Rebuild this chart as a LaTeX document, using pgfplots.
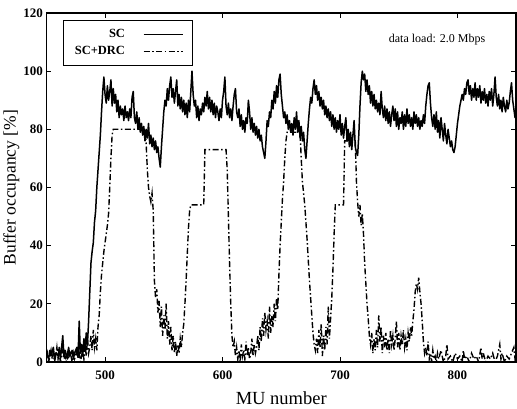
\documentclass[border=0pt]{standalone}
\usepackage{pgfplots}
\pgfplotsset{compat=1.18}
\usepackage{fontspec}
\setmainfont{Liberation Serif}

\pgfplotstableread{
x y
450 3
452 1
453 4
454 2
456 5
457 1
458 3
460 2
461 5
462 1
464 9
465 2
466 4
468 1
469 5
470 2
472 4
473 1
474 3
476 5
477 2
478 14
479 3
480 6
481 2
482 8
483 4
484 10
485 6
486 14
487 24
488 34
489 38
490 41
491 48
492 52
493 60
494 66
495 72
496 78
497 86
498 93
499 98
500 92
501 89
502 95
503 90
504 93
505 97
506 88
507 94
508 89
509 92
510 86
511 90
512 84
513 88
514 85
515 87
516 83
517 88
518 84
519 86
520 83
521 87
522 84
523 91
524 93
525 84
526 82
527 86
528 80
529 84
530 79
531 82
532 78
533 81
534 76
535 80
536 77
537 82
538 75
539 78
540 74
541 77
542 73
543 76
544 72
545 74
546 70
547 67
548 74
549 80
550 86
551 90
552 88
553 94
554 90
555 95
556 98
557 91
558 94
559 89
560 93
561 97
562 88
563 92
564 87
565 91
566 86
567 90
568 85
569 89
570 84
571 90
572 86
573 93
574 100
575 92
576 88
577 90
578 84
579 88
580 83
581 87
582 85
583 89
584 86
585 91
586 88
587 93
588 87
589 91
590 86
591 90
592 85
593 89
594 84
595 88
596 86
597 83
598 87
599 84
600 90
601 93
602 98
603 88
604 85
605 89
606 84
607 87
608 83
609 88
610 92
611 94
612 86
613 84
614 87
615 81
616 85
617 80
618 83
619 79
620 84
621 82
622 90
623 86
624 80
625 84
626 79
627 82
628 78
629 81
630 77
631 80
632 76
633 78
634 74
635 72
636 70
637 76
638 83
639 81
640 86
641 84
642 90
643 87
644 93
645 89
646 95
647 91
648 97
649 99
650 92
651 88
652 84
653 86
654 82
655 85
656 80
657 83
658 79
659 82
660 78
661 84
662 80
663 86
664 79
665 83
666 77
667 81
668 76
669 79
670 73
671 70
672 76
673 82
674 87
675 91
676 89
677 94
678 97
679 92
680 95
681 90
682 93
683 88
684 91
685 87
686 90
687 85
688 88
689 84
690 87
691 83
692 86
693 81
694 85
695 80
696 84
697 79
698 83
699 80
700 85
701 78
702 82
703 77
704 81
705 84
706 76
707 80
708 74
709 79
710 73
711 78
712 83
713 74
714 72
715 71
716 78
717 88
718 96
719 100
720 97
721 99
722 93
723 97
724 92
725 95
726 89
727 93
728 88
729 92
730 87
731 90
732 86
733 89
734 85
735 93
736 87
737 84
738 88
739 83
740 87
741 82
742 86
743 81
744 85
745 88
746 83
747 87
748 81
749 86
750 80
751 84
752 82
753 86
754 80
755 85
756 81
757 87
758 82
759 85
760 81
761 84
762 80
763 86
764 82
765 85
766 81
767 84
768 80
769 83
770 81
771 85
772 82
773 88
774 92
775 95
776 96
777 89
778 84
779 81
780 85
781 80
782 86
783 79
784 83
785 77
786 84
787 80
788 76
789 82
790 78
791 75
792 80
793 77
794 74
795 76
796 73
797 72
798 74
799 78
800 82
801 85
802 88
803 90
804 92
805 90
806 94
807 92
808 96
809 97
810 92
811 95
812 90
813 94
814 91
815 96
816 90
817 94
818 91
819 95
820 89
821 93
822 90
823 94
824 89
825 92
826 88
827 93
828 90
829 94
830 88
831 92
832 98
833 91
834 88
835 92
836 87
837 90
838 86
839 91
840 88
841 86
842 90
843 87
844 89
845 93
846 96
847 90
848 87
849 84
850 86
}\sctable

\pgfplotstableread{
x y
450 1
451 3
452 0
453 2
454 4
455 1
456 3
457 0
458 2
459 5
460 1
461 3
462 0
463 2
464 4
465 1
466 2
467 0
468 3
469 1
470 4
471 2
472 0
473 3
474 1
475 2
476 5
477 1
478 3
479 0
480 2
481 4
482 1
483 6
484 2
485 8
486 3
487 5
488 9
489 4
490 11
491 5
492 8
493 4
494 12
495 16
496 24
497 30
498 34
499 38
500 41
501 44
502 47
503 51
504 60
505 70
506 78
507 80
534 80
535 75
536 66
537 60
538 57
539 55
540 58
541 52
542 28
543 22
544 25
545 17
546 21
547 12
548 19
549 9
550 16
551 11
552 20
553 8
554 14
555 6
556 12
557 4
558 9
559 3
560 7
561 2
562 6
563 3
564 8
565 5
566 10
567 13
568 20
569 28
570 37
571 46
572 52
573 54
584 54
585 73
603 73
604 66
605 50
606 34
607 20
608 9
609 5
610 7
611 2
612 5
613 1
614 4
615 0
616 6
617 2
618 4
619 1
620 7
621 2
622 5
623 1
624 3
625 8
626 2
627 6
628 3
629 5
630 9
631 4
632 12
633 7
634 15
635 9
636 17
637 11
638 14
639 8
640 19
641 10
642 16
643 12
644 20
645 14
646 22
647 18
648 30
649 40
650 48
651 56
652 62
653 70
654 76
655 79
666 79
667 70
668 62
669 58
670 54
671 48
672 42
673 35
674 28
675 22
676 16
677 10
678 6
679 4
680 8
681 3
682 11
683 5
684 13
685 2
686 9
687 4
688 12
689 6
690 19
691 8
692 15
693 22
694 32
695 44
696 54
703 54
704 76
713 76
714 62
715 55
716 50
717 54
718 47
719 51
720 44
721 34
722 27
723 20
724 15
725 9
726 6
727 10
728 3
729 8
730 4
731 11
732 5
733 16
734 7
735 12
736 3
737 9
738 5
739 10
740 4
741 8
742 3
743 11
744 6
745 9
746 4
747 8
748 14
749 5
750 10
751 4
752 9
753 6
754 11
755 5
756 8
757 4
758 10
759 7
760 12
761 9
762 14
763 18
764 24
765 27
766 25
767 29
768 24
769 20
770 14
771 7
772 3
773 5
774 2
775 7
776 1
777 3
778 0
779 4
780 1
781 2
782 0
783 3
784 1
786 4
788 0
790 2
791 6
792 1
794 2
796 0
798 3
800 1
802 2
804 0
805 4
806 1
808 2
810 0
812 3
814 1
816 2
818 0
820 5
821 1
822 3
824 0
826 2
828 1
830 3
832 0
834 2
836 6
837 1
838 3
840 0
842 2
844 1
846 3
848 5
849 1
850 2
}\drctable

\begin{document}
\begin{tikzpicture}
\begin{axis}[
  scale only axis,
  width=470pt, height=349pt,
  xmin=450, xmax=850, ymin=0, ymax=120,
  xtick={500,600,700,800},
  ytick={0,20,40,60,80,100,120},
  tick align=inside,
  major tick length=5pt,
  axis line style={line width=1.6pt},
  every tick/.style={black, line width=1pt},
  /pgf/number format/assume math mode=true,
  ticklabel style={font=\fontsize{13}{15}\selectfont\bfseries},
  xticklabel style={yshift=-5pt},
  xlabel={MU number},
  ylabel={Buffer occupancy [\%]},
  xlabel style={font=\fontsize{18.5}{20}\selectfont, yshift=-6pt},
  ylabel style={font=\fontsize{17.5}{20}\selectfont, yshift=-3pt},
  legend plot pos=right,
  legend cell align=right,
  legend image code/.code={\draw[#1] (0pt,0pt) -- (39pt,0pt);},
  legend style={at={(0.036,0.98)}, anchor=north west, draw=black,
    line width=1.2pt, inner xsep=9pt, inner ysep=7pt, row sep=3pt,
    column sep=16pt,
    nodes={inner sep=2pt},
    font=\fontsize{12.5}{14}\selectfont\bfseries},
]
\addplot[black, line width=1.5pt, line join=round] table[x=x,y=y] {\sctable};
\addlegendentry{SC}
\addplot[black, line width=1.4pt, dash pattern=on 6pt off 2.5pt on 1.5pt off 2.5pt] table[x=x,y=y] {\drctable};
\addlegendentry{SC+DRC}
\node[font=\fontsize{12}{14}\selectfont] at (axis cs:782.6,110.7) {data load: 2.0 Mbps};
\end{axis}
\path ([yshift=13pt]current axis.north west);
\end{tikzpicture}
\end{document}
